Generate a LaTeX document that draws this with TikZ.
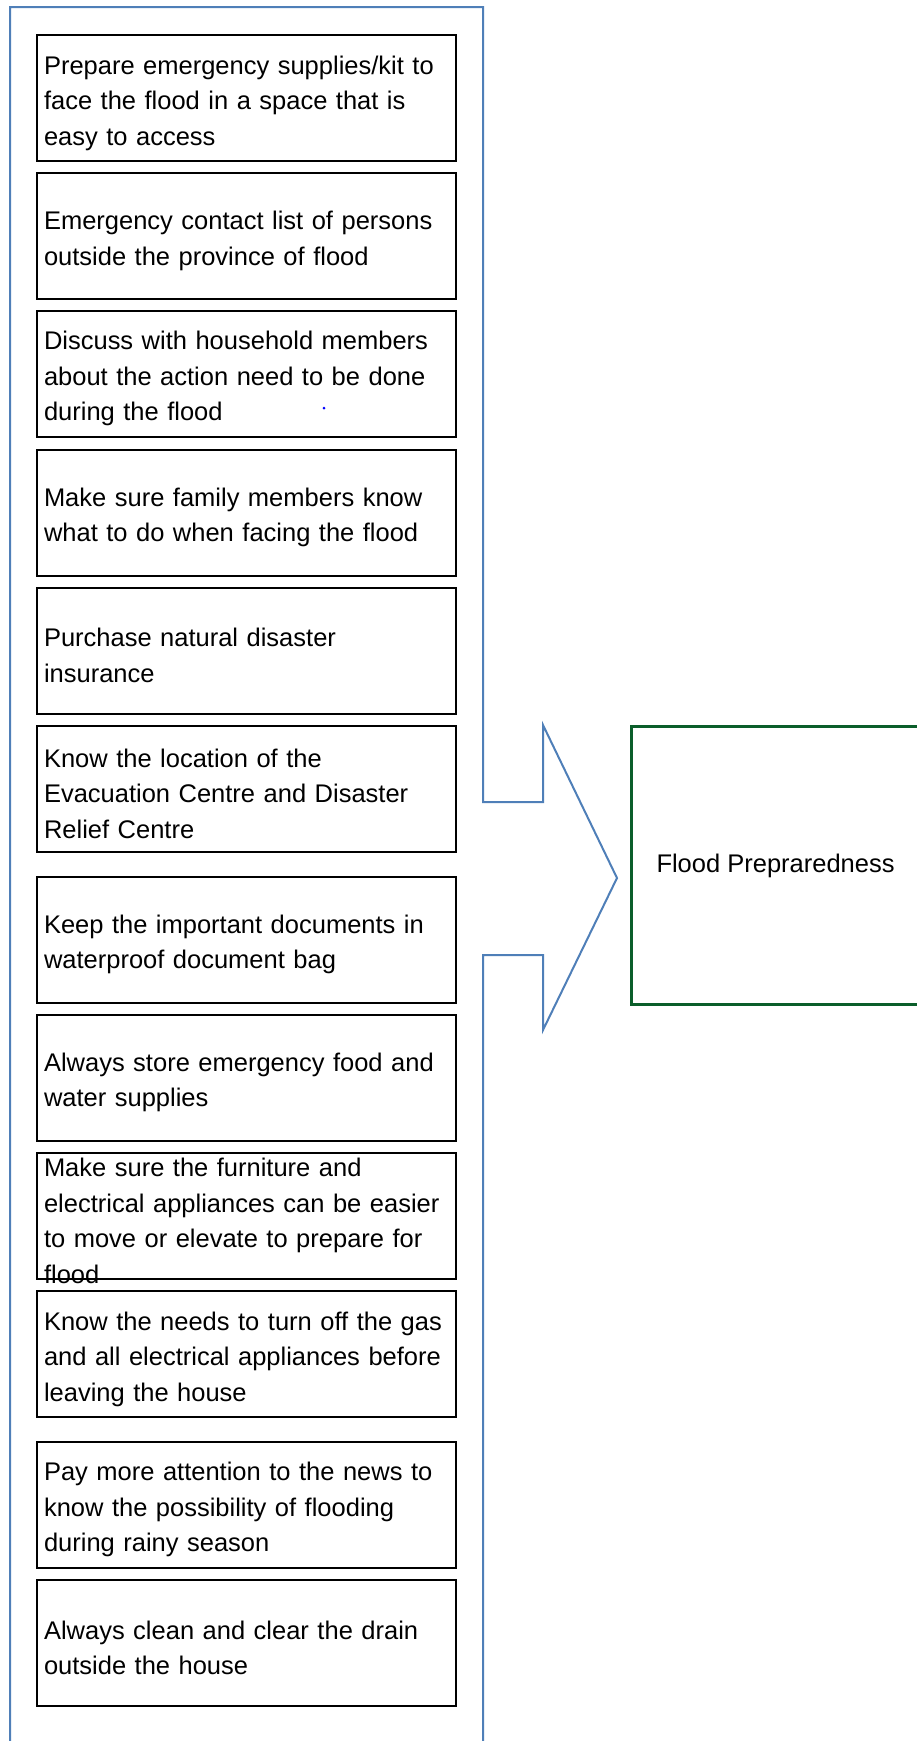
\documentclass[tikz,border=0pt]{standalone}
\usepackage{fontspec}
\setmainfont{Liberation Sans}
\usetikzlibrary{positioning}

\definecolor{frameblue}{HTML}{4F7FB8}
\definecolor{goalgreen}{HTML}{0B5E2A}

\begin{document}
\begin{tikzpicture}[
    x=1pt, y=-1pt,
    item/.style    = {draw=black, line width=2pt, minimum width=419pt, minimum height=126pt,
                      text width=405pt, inner xsep=7pt, inner ysep=0pt, align=left,
                      font=\fontsize{25.5}{35.5}\selectfont,
                      execute at end node={\endgraf\vspace{-10pt}}},
    goalbox/.style = {draw=goalgreen, line width=3pt, minimum width=288pt, minimum height=278pt,
                      inner xsep=25pt, align=left, font=\fontsize{25.5}{35.5}\selectfont},
    outline/.style = {draw=frameblue, line width=2pt, line join=miter},
]

\useasboundingbox (0,0) rectangle (917,1741);

%% ---- Outer frame with the arrow head ----

\draw[outline] (10,1745) -- (10,7) -- (483,7) -- (483,802) -- (543,802) -- (543,725)
    -- (617,878) -- (543,1030) -- (543,955) -- (483,955) -- (483,1745);

%% ---- Preparedness items ----

\node[item] (p1)  at (246.5,98)   {Prepare emergency supplies/kit to\\face the flood in a space that is\\easy to access};
\node[item] (p2)  at (246.5,236)  {Emergency contact list of persons\\outside the province of flood};
\node[item] (p3)  at (246.5,373.5){Discuss with household members\\about the action need to be done\\during the flood};
\node[item] (p4)  at (246.5,512.5){Make sure family members know\\what to do when facing the flood};
\node[item] (p5)  at (246.5,650.5){Purchase natural disaster\\insurance};
\node[item] (p6)  at (246.5,788.5){Know the location of the\\Evacuation Centre and Disaster\\Relief Centre};
\node[item] (p7)  at (246.5,939.5){Keep the important documents in\\waterproof document bag};
\node[item] (p8)  at (246.5,1077.5){Always store emergency food and\\water supplies};
\node[item] (p9)  at (246.5,1216) {Make sure the furniture and\\electrical appliances can be easier\\to move or elevate to prepare for\\flood};
\node[item] (p10) at (246.5,1354) {Know the needs to turn off the gas\\and all electrical appliances before\\leaving the house};
\node[item] (p11) at (246.5,1504.5){Pay more attention to the news to\\know the possibility of flooding\\during rainy season};
\node[item] (p12) at (246.5,1643) {Always clean and clear the drain\\outside the house};

% stray dot
\fill[blue] (324,408) circle (1.5pt);

%% ---- Outcome box ----

\node[goalbox, anchor=north west] (goal) at (630,725) {Flood Prepraredness};

\end{tikzpicture}
\end{document}
